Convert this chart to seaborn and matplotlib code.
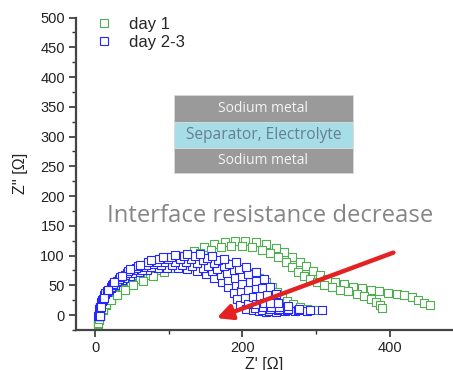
import numpy as np
import pandas as pd
import matplotlib
matplotlib.use("Agg")
import matplotlib.pyplot as plt
import seaborn as sns
from matplotlib.patches import Rectangle
from matplotlib.lines import Line2D

# ---- data ----
series_names = ["day 1", "day 2-3"]

# day 1 (green) spectra
g1_x = [4,5,7,10,15,22,30,40,52,65,78,92,106,120,134,148,162,176,190,204,218,232,245,257,268,278,287,296,305,315,326,338,350,362,374,386,398,410,420,430,438,446,455]
g1_y = [-15,-8,0,8,17,27,36,45,54,63,72,81,90,99,107,114,119,123,125,125,123,119,113,106,98,90,82,74,67,61,56,52,48,45,42,40,38,36,34,30,25,21,17]
g2_x = [4,5,7,10,15,21,29,38,49,61,74,87,101,115,129,143,157,171,185,199,213,226,238,249,259,268,276,284,292,301,311,322,333,344,355,365,374,381,387,390]
g2_y = [-14,-7,1,9,18,27,36,44,52,60,68,76,84,92,99,105,110,114,116,116,114,110,104,97,89,81,73,66,60,55,51,47,43,40,36,32,27,22,17,12]
g3_x = [4,5,7,10,15,22,30,40,52,65,79,93,107,121,135,149,163,177,190,202,213,223,232,240,247,254,261,269,278,288,298]
g3_y = [-13,-6,2,10,18,26,34,42,50,58,66,73,79,84,88,90,90,88,84,78,71,63,55,47,39,31,24,18,13,10,8]

# day 2-3 (blue) spectra
b1_x = [4,5,8,12,19,27,36,47,59,71,85,98,112,125,138,150,162,172,180,188,193,197,205,214,223,232]
b1_y = [-2,11,22,33,42,51,59,66,72,76,79,80,80,78,74,69,63,56,47,38,27,17,11,8,7,6]
b2_x = [5,6,9,14,21,29,39,50,63,76,90,104,118,132,146,159,171,181,191,198,204,208,217,226,236,245]
b2_y = [-2,12,23,35,45,55,63,70,76,81,84,85,85,82,79,74,67,59,50,40,29,18,12,9,7,6]
b3_x = [5,6,9,14,21,30,40,52,65,79,94,109,124,138,153,166,179,190,200,207,214,218,228,238,248,258]
b3_y = [-2,13,25,37,48,58,67,75,81,86,89,90,90,87,83,78,71,63,53,42,31,19,13,10,8,7]
b4_x = [6,7,10,16,23,32,43,56,69,84,99,115,130,146,161,175,188,200,210,218,224,229,239,250,261,272]
b4_y = [-2,13,26,39,50,61,71,79,85,90,94,95,95,92,88,82,75,66,56,45,32,20,14,10,8,7]
b5_x = [6,7,10,16,24,34,45,58,72,87,103,120,136,152,167,182,196,208,219,227,234,238,250,262,275,288]
b5_y = [-2,14,27,40,52,64,74,82,89,94,98,99,99,96,92,86,78,69,58,46,34,21,14,10,8,7]
b6_x = [7,8,12,18,26,36,47,61,76,92,108,125,142,159,175,191,205,218,229,238,245,249,262,277,292,308]
b6_y = [-2,14,28,42,55,66,77,85,93,98,101,103,102,100,95,89,81,72,61,48,35,21,15,11,9,8]

green_curves = [(g1_x, g1_y), (g2_x, g2_y), (g3_x, g3_y)]
blue_curves = [(b1_x, b1_y), (b2_x, b2_y), (b3_x, b3_y), (b4_x, b4_y), (b5_x, b5_y), (b6_x, b6_y)]

x_ticks = [0, 200, 400]
y_ticks = [0, 50, 100, 150, 200, 250, 300, 350, 400, 450, 500]

rows = []
for i, (xs, ys) in enumerate(green_curves):
    for xv, yv in zip(xs, ys):
        rows.append((series_names[0], f"g{i}", xv, yv))
for i, (xs, ys) in enumerate(blue_curves):
    for xv, yv in zip(xs, ys):
        rows.append((series_names[1], f"b{i}", xv, yv))
df = pd.DataFrame(rows, columns=["series", "curve", "x", "y"])

# ---- style ----
sns.set_style("ticks")
plt.rcParams["font.family"] = ["Liberation Sans", "DejaVu Sans"]

W, H = 453, 370
fig = plt.figure(figsize=(W / 100, H / 100), dpi=100)

def fx(px):
    return px / W

def fy(py):
    return 1 - py / H

ax = fig.add_axes([fx(76), fy(330), fx(453) - fx(76), fy(17.5) - fy(330)])

green = "#4fae4f"
blue = "#2626ff"
colors = {"day 1": green, "day 2-3": blue}

for name in series_names:
    sub = df[df["series"] == name]
    for cv in sub["curve"].unique():
        d = sub[sub["curve"] == cv]
        sns.scatterplot(data=d, x="x", y="y", ax=ax, marker="s", s=36,
                        color="white", edgecolor=colors[name], linewidth=0.8,
                        legend=False, zorder=3)

ax.set_xlim(-26, 486)
ax.set_ylim(-25, 500)
ax.set_xticks(x_ticks)
ax.set_xticks([100, 300], minor=True)
ax.set_yticks(y_ticks)
ax.set_yticks(np.arange(-25, 501, 25), minor=True)
ax.tick_params(axis="both", which="major", direction="out", length=5, width=1.2,
               color="#333333", labelsize=10.5, labelcolor="#222222", pad=3)
ax.tick_params(axis="both", which="minor", direction="out", length=3, width=1.0,
               color="#333333")
for s in ["top", "right"]:
    ax.spines[s].set_visible(False)
for s in ["left", "bottom"]:
    ax.spines[s].set_linewidth(1.6)
    ax.spines[s].set_color("#444444")

ax.set_xlabel("Z' [Ω]", fontsize=11.5, color="#222222", labelpad=1)
ax.set_ylabel("Z'' [Ω]", fontsize=11.5, color="#222222", labelpad=9)

# legend
handles = [Line2D([], [], marker="s", linestyle="none", markersize=6,
                  markerfacecolor="white", markeredgecolor=colors[n], markeredgewidth=0.8)
           for n in series_names]
ax.legend(handles, series_names, loc="upper left", frameon=False,
          bbox_to_anchor=(fx(96), fy(17)), bbox_transform=fig.transFigure,
          fontsize=12, handlelength=1.0, handletextpad=1.0, labelspacing=0.2,
          borderaxespad=0, borderpad=0)

# inset cell diagram
bands = [(95, 122, "#9a9a9a", "Sodium metal", "#f4f4f4", 10),
         (122, 148, "#a6dde7", "Separator, Electrolyte", "#66808c", 11.2),
         (148, 173, "#9a9a9a", "Sodium metal", "#f4f4f4", 10)]
for top, bot, fc, txt, tc, fs in bands:
    fig.patches.append(Rectangle((fx(174), fy(bot)), fx(353) - fx(174), fy(top) - fy(bot),
                                 transform=fig.transFigure, facecolor=fc,
                                 edgecolor="#d8d8d8", linewidth=0.6, zorder=5))
    fig.text(fx(263.5), fy((top + bot) / 2), txt, ha="center", va="center",
             fontsize=fs, color=tc, family=["Open Sans", "DejaVu Sans"], zorder=6)

# annotation text
fig.text(fx(270), fy(216), "Interface resistance decrease", ha="center", va="center",
         fontsize=17.2, color="#858585", family=["Open Sans", "DejaVu Sans"])

# red arrow
ax.annotate("", xy=(165, -5), xytext=(405, 105),
            arrowprops=dict(arrowstyle="-|>,head_length=0.9,head_width=0.45",
                            color="#e52222", lw=3.2, shrinkA=0, shrinkB=0),
            zorder=6)

fig.savefig("out.png", dpi=100)
